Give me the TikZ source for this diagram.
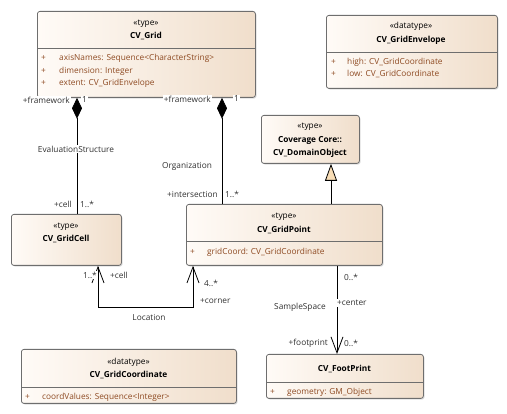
\documentclass[tikz,border=0pt]{standalone}
\usepackage{fontspec}
\setmainfont{Open Sans}
\usetikzlibrary{arrows.meta,shadows}
\definecolor{boxl}{HTML}{FFFBF7}
\definecolor{boxr}{HTML}{F0DECB}
\definecolor{boxline}{HTML}{6E6E6E}
\definecolor{attr}{HTML}{8E4A22}
\definecolor{genfill}{HTML}{F8DDB6}
\definecolor{lbl}{HTML}{303030}
\begin{document}
\begin{tikzpicture}[x=1pt,y=-1pt,font=\fontsize{8.3}{9.5}\selectfont,
  umlbox/.style={draw=boxline,line width=0.8pt,rounded corners=2.5pt,left color=boxl,right color=boxr,
    drop shadow={shadow xshift=1.2pt,shadow yshift=-1.2pt,opacity=0.25},anchor=north west,inner sep=0pt},
  divider/.style={draw=boxline,line width=0.8pt},
  stereo/.style={inner sep=0pt,text=black},
  cname/.style={inner sep=0pt,font=\fontsize{8.3}{9.5}\selectfont\bfseries,text=black},
  attrtxt/.style={inner sep=0pt,anchor=west,text=attr},
  lab/.style={inner sep=1pt,fill=white,text=lbl},
  conn/.style={draw=black,line width=0.8pt},
  comp/.style={conn,{Diamond[length=21pt,width=10pt]}-},
  nav/.style={conn,-{Straight Barb[length=16pt,width=12pt,line width=0.8pt]}},
  gen/.style={conn,-{Triangle[length=17pt,width=12pt,fill=genfill,line width=0.8pt]}}]
\useasboundingbox (0,0) rectangle (507,414);

% CV_Grid
\node[umlbox,minimum width=218pt,minimum height=86pt] (grid) at (37,11) {};
\node[stereo] (gridst) at (146,24) {«type»};
\node[cname] (gridnm) at (146,36) {CV\_Grid};
\draw[divider] (grid.west |- 0,48) -- (grid.east |- 0,48);
\node[attrtxt] (ga1p) at (41,58) {+};
\node[attrtxt] (ga1) at (59,58) {axisNames: Sequence<CharacterString>};
\node[attrtxt] (ga2p) at (41,71) {+};
\node[attrtxt] (ga2) at (59,71) {dimension: Integer};
\node[attrtxt] (ga3p) at (41,83) {+};
\node[attrtxt] (ga3) at (59,83) {extent: CV\_GridEnvelope};

% CV_GridEnvelope
\node[umlbox,minimum width=171pt,minimum height=73pt] (env) at (326,15) {};
\node[stereo] (envst) at (411,26) {«datatype»};
\node[cname] (envnm) at (411,40) {CV\_GridEnvelope};
\draw[divider] (env.west |- 0,52) -- (env.east |- 0,52);
\node[attrtxt] (ea1p) at (331,62) {+};
\node[attrtxt] (ea1) at (347,62) {high: CV\_GridCoordinate};
\node[attrtxt] (ea2p) at (331,74) {+};
\node[attrtxt] (ea2) at (347,74) {low: CV\_GridCoordinate};

% CV_DomainObject
\node[umlbox,minimum width=98pt,minimum height=48pt] (dom) at (261,115) {};
\node[stereo] (domst) at (310,127) {«type»};
\node[cname] (domnm1) at (310,140) {Coverage Core::};
\node[cname] (domnm2) at (310,153) {CV\_DomainObject};

% CV_GridPoint
\node[umlbox,minimum width=196pt,minimum height=61pt] (pt) at (186,204) {};
\node[stereo] (ptst) at (284,217) {«type»};
\node[cname] (ptnm) at (284,230) {CV\_GridPoint};
\draw[divider] (pt.west |- 0,241) -- (pt.east |- 0,241);
\node[attrtxt] (pa1p) at (190,252) {+};
\node[attrtxt] (pa1) at (207,252) {gridCoord: CV\_GridCoordinate};

% CV_GridCell
\node[umlbox,minimum width=110pt,minimum height=51pt] (cell) at (11,214) {};
\node[stereo] (cellst) at (66,227) {«type»};
\node[cname] (cellnm) at (66,239) {CV\_GridCell};

% CV_GridCoordinate
\node[umlbox,minimum width=215pt,minimum height=54pt] (coord) at (21,349) {};
\node[stereo] (coordst) at (128.5,362) {«datatype»};
\node[cname] (coordnm) at (128.5,375) {CV\_GridCoordinate};
\draw[divider] (coord.west |- 0,387) -- (coord.east |- 0,387);
\node[attrtxt] (ca1p) at (25,397) {+};
\node[attrtxt] (ca1) at (42,397) {coordValues: Sequence<Integer>};

% CV_FootPrint
\node[umlbox,minimum width=157pt,minimum height=44pt] (fp) at (266,354) {};
\node[cname] (fpnm) at (344.5,369) {CV\_FootPrint};
\draw[divider] (fp.west |- 0,382) -- (fp.east |- 0,382);
\node[attrtxt] (fa1p) at (270,392) {+};
\node[attrtxt] (fa1) at (287,392) {geometry: GM\_Object};

% connector columns
\coordinate (xes) at (77,0);
\coordinate (xorg) at (222,0);
\coordinate (xgen) at (331,0);
\coordinate (xlc) at (98,0);
\coordinate (xlp) at (193,0);
\coordinate (xss) at (337,0);
\coordinate (ylo) at (0,307);

% EvaluationStructure
\draw[comp] (grid.south -| xes) -- (cell.north -| xes);
\node[lab] (esl) at (76,149) {EvaluationStructure};
\node[lab,anchor=east] (esf) at (71,100) {+framework};
\node[lab,anchor=west] (esm) at (81,100) {1};
\node[lab,anchor=east] (esc) at (73,204) {+cell};
\node[lab,anchor=west] (escm) at (79,204) {1..*};

% Organization
\draw[comp] (grid.south -| xorg) -- (pt.north -| xorg);
\node[lab] (orgl) at (187,166) {Organization};
\node[lab,anchor=east] (orgf) at (212,99) {+framework};
\node[lab,anchor=west] (orgm) at (233,99) {1};
\node[lab,anchor=east] (orgi) at (219,194) {+intersection};
\node[lab,anchor=west] (orgim) at (224,194) {1..*};

% Generalization
\draw[gen] (pt.north -| xgen) -- (dom.south -| xgen);

% Location
\draw[nav] (ylo -| xlc) -- (cell.south -| xlc);
\draw[nav] (ylo -| xlc) -- (ylo -| xlp) -- (pt.south -| xlp);
\node[lab,fill=none] (locl) at (149,317) {Location};
\node[lab,anchor=east] (locm1) at (98,275) {1..*};
\node[lab,fill=none,anchor=west] (locc) at (109,275) {+cell};
\node[lab,fill=none,anchor=west] (locm2) at (203,283) {4..*};
\node[lab,fill=none,anchor=west] (locco) at (199,301) {+corner};

% SampleSpace
\draw[nav] (pt.south -| xss) -- (fp.north -| xss);
\node[lab] (ssl) at (300,307) {SampleSpace};
\node[lab,fill=none,anchor=west] (ssm1) at (343,277) {0..*};
\node[lab,anchor=west] (ssc) at (336,303) {+center};
\node[lab,fill=none,anchor=east] (ssf) at (329,343) {+footprint};
\node[lab,fill=none,anchor=west] (ssm2) at (343,343) {0..*};
\end{tikzpicture}
\end{document}
